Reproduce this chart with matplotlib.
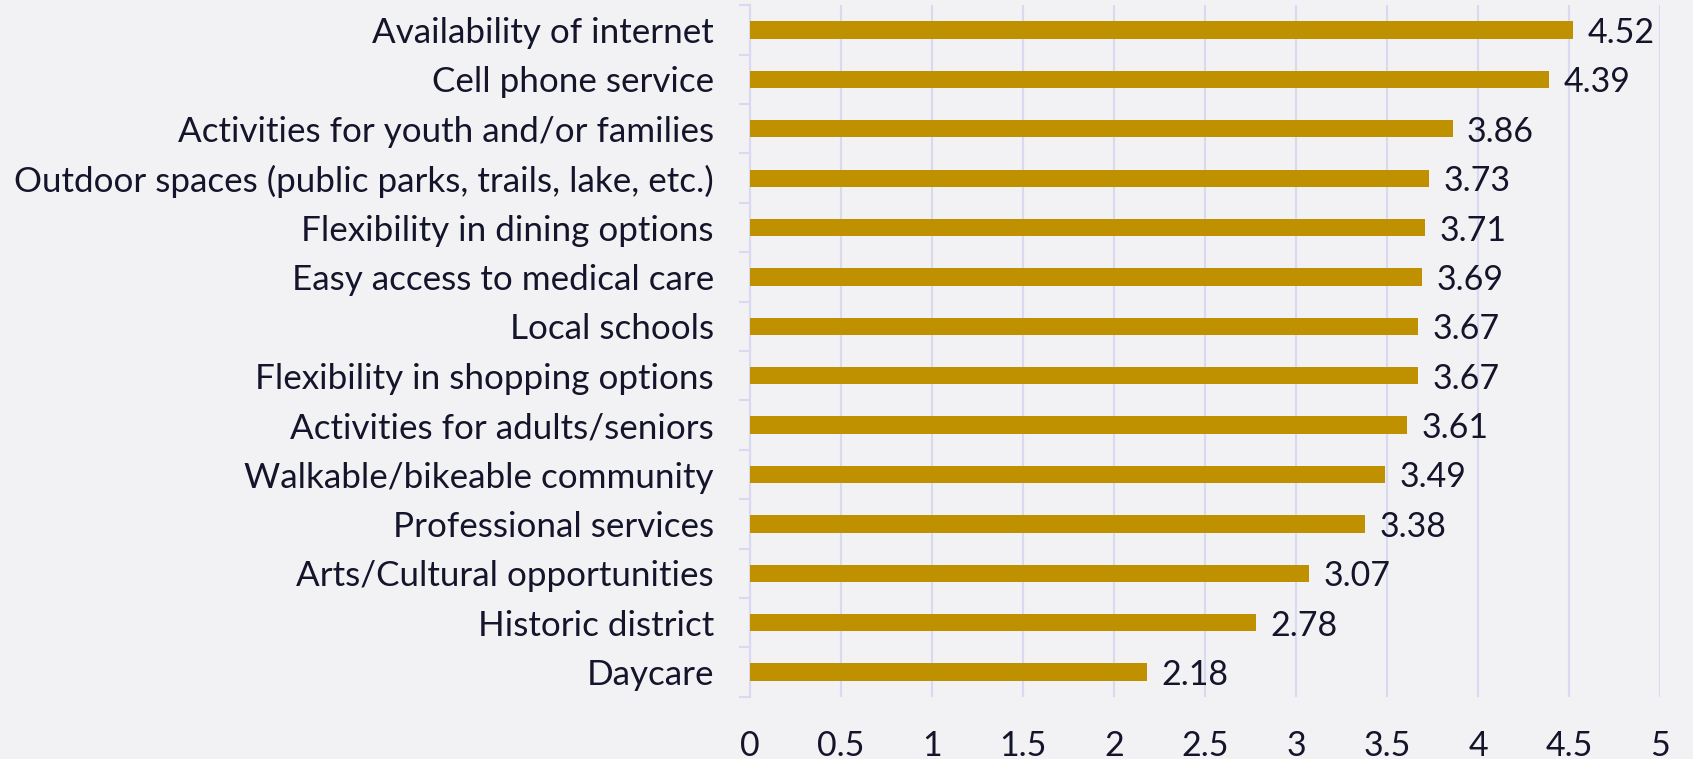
import matplotlib
matplotlib.use('Agg')
from matplotlib import pyplot as plt
import numpy as np

# survey items and mean ratings, top to bottom
categories = [
    'Availability of internet',
    'Cell phone service',
    'Activities for youth and/or families',
    'Outdoor spaces (public parks, trails, lake, etc.)',
    'Flexibility in dining options',
    'Easy access to medical care',
    'Local schools',
    'Flexibility in shopping options',
    'Activities for adults/seniors',
    'Walkable/bikeable community',
    'Professional services',
    'Arts/Cultural opportunities',
    'Historic district',
    'Daycare',
]
scores = [4.52, 4.39, 3.86, 3.73, 3.71, 3.69, 3.67, 3.67, 3.61, 3.49, 3.38, 3.07, 2.78, 2.18]
xticks = [0, 0.5, 1, 1.5, 2, 2.5, 3, 3.5, 4, 4.5, 5]

bg = '#f2f2f4'
grid_c = '#d9d9f2'
text_c = '#14142b'

plt.rcParams['font.family'] = ['Lato', 'DejaVu Sans']

fig = plt.figure(figsize=(16.93, 7.59), dpi=100, facecolor=bg)
ax = fig.add_axes([0.443, 0.082, 0.5375, 0.911], facecolor=bg)

y = np.arange(len(categories))
ax.barh(y, scores, height=0.35, color='#bf9000', zorder=3)

# value labels just past the bar ends
for yi, v in zip(y, scores):
    ax.text(v + 0.08, yi + 0.06, '%.2f' % v, va='center', ha='left',
            fontsize=24.5, color=text_c, zorder=4)

ax.set_ylim(len(categories) - 0.5, -0.5)
ax.set_xlim(0, 5)
ax.set_yticks(y)
ax.set_yticklabels(categories)
ax.set_yticks(np.arange(len(categories) + 1) - 0.5, minor=True)
ax.set_xticks(xticks)
ax.set_xticklabels([('%g' % t) for t in xticks])

ax.grid(axis='x', color=grid_c, linewidth=1.5, zorder=0)
for s in ['top', 'right', 'bottom']:
    ax.spines[s].set_visible(False)
ax.spines['left'].set_color(grid_c)
ax.spines['left'].set_linewidth(1.5)

ax.tick_params(axis='y', which='major', length=0, pad=26, labelsize=25.2, labelcolor=text_c)
ax.tick_params(axis='y', which='minor', length=8, width=1.5, color=grid_c)
ax.tick_params(axis='x', length=0, pad=24, labelsize=24.5, labelcolor=text_c)

fig.savefig('out.png', dpi=100, facecolor=bg)
